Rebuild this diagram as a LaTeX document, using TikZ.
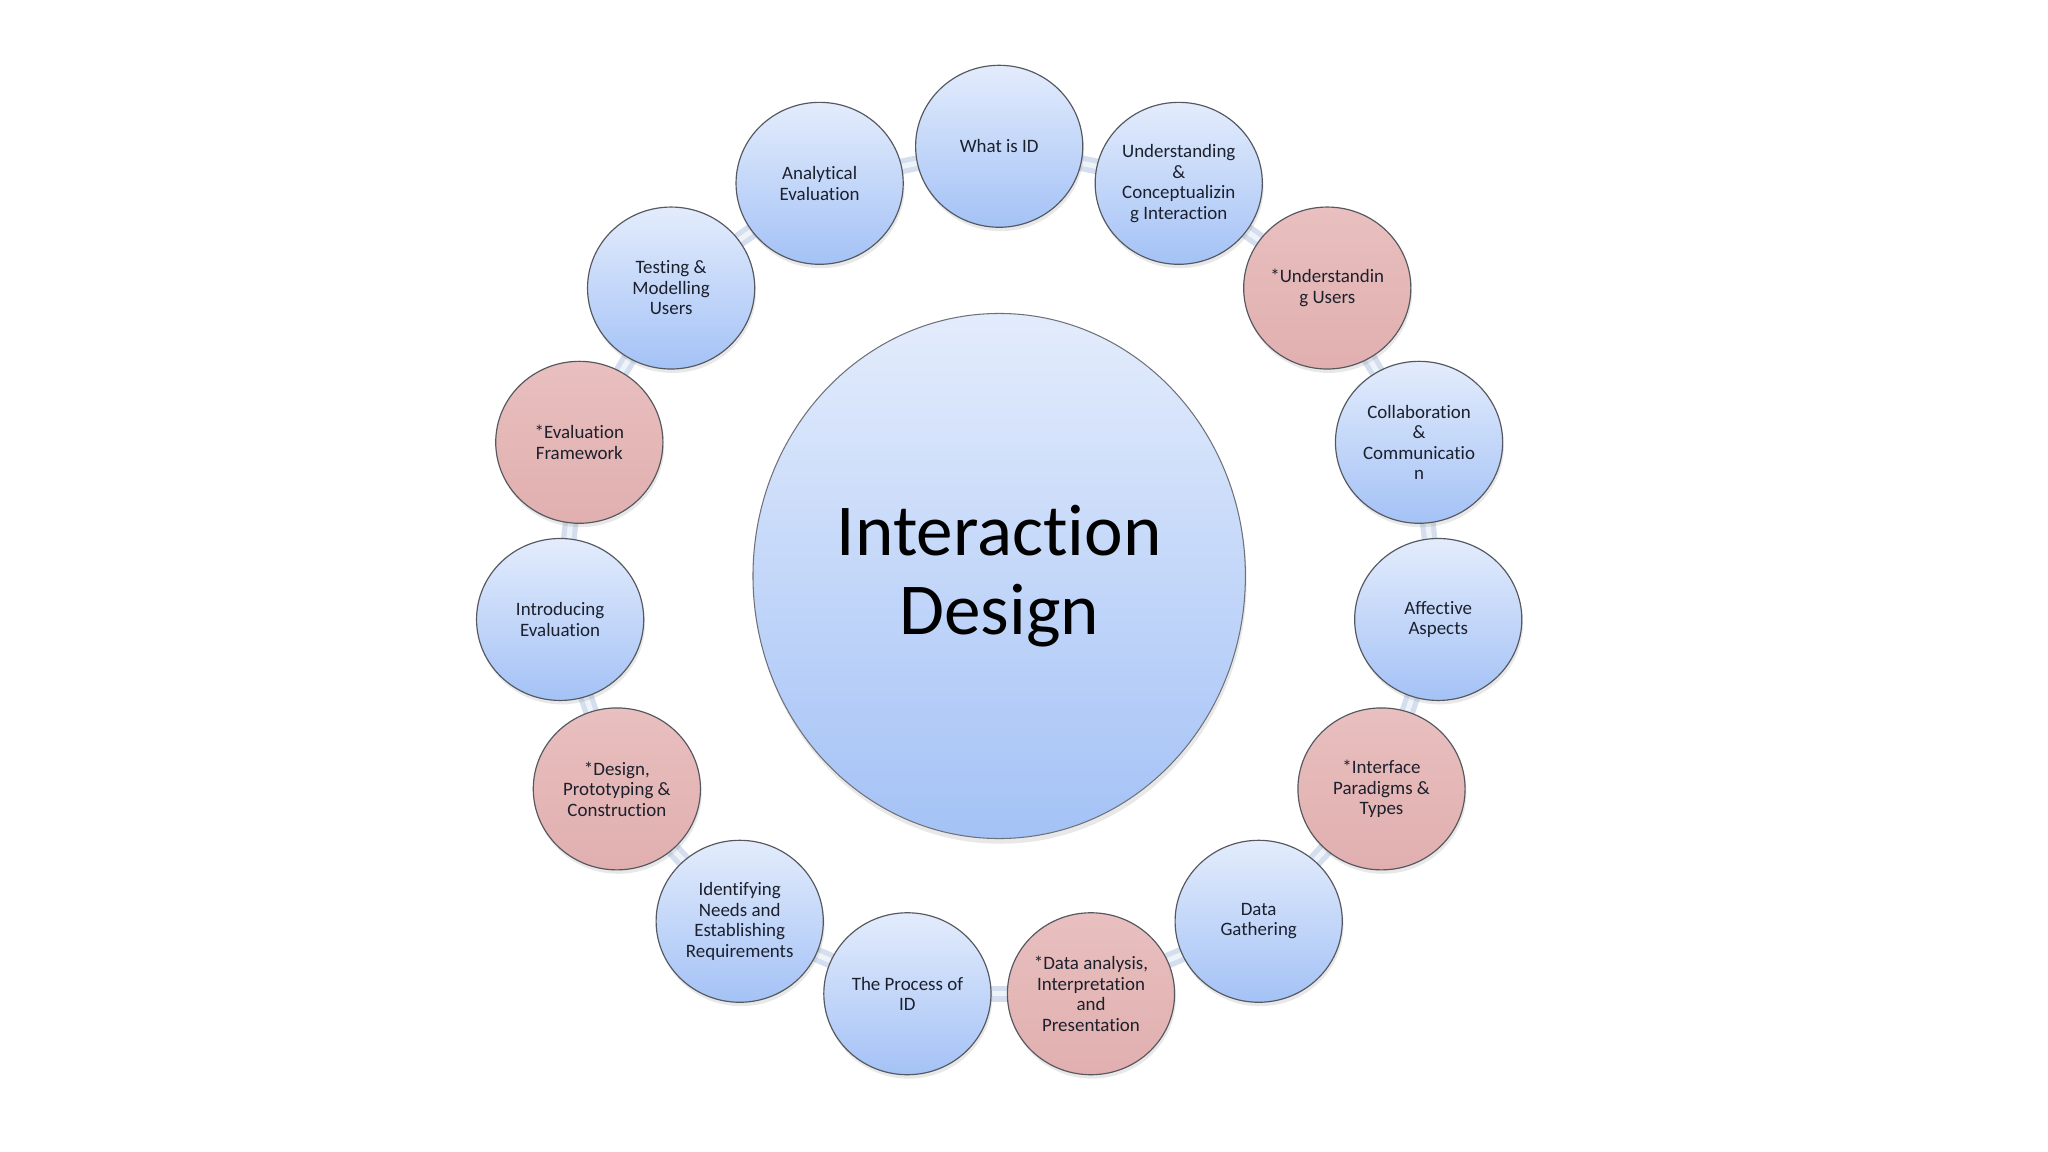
\documentclass[tikz,border=0pt]{standalone}
\usepackage{fontspec}
\setmainfont{Carlito}[Ligatures=NoCommon]
\usetikzlibrary{shapes.geometric,shadows}
\pgfdeclarelayer{bg}
\pgfsetlayers{bg,main}
\definecolor{bluetop}{RGB}{227,236,252}
\definecolor{bluebot}{RGB}{164,194,246}
\definecolor{redtop}{RGB}{233,191,191}
\definecolor{redbot}{RGB}{225,175,175}
\definecolor{edgecol}{RGB}{85,88,95}
\definecolor{bandcol}{RGB}{212,222,238}
\definecolor{bandhi}{RGB}{238,243,250}
\definecolor{txtcol}{RGB}{28,32,45}
\begin{document}
\begin{tikzpicture}[x=1pt,y=-1pt,
  bubble/.style={ellipse, minimum width=128pt, minimum height=124pt, inner sep=0pt,
    draw=edgecol, line width=0.9pt, align=center, text=txtcol,
    font=\fontsize{14.5}{15.7}\selectfont,
    drop shadow={opacity=0.18, shadow xshift=1pt, shadow yshift=-3pt}},
  bluebub/.style={bubble, top color=bluetop, bottom color=bluebot},
  redbub/.style={bubble, top color=redtop, bottom color=redbot},
  band/.style={line width=12pt, draw=bandcol},
  bandin/.style={line width=4pt, draw=bandhi}]
\useasboundingbox (0,0) rectangle (1568,882);

\node[ellipse, minimum width=377pt, minimum height=402pt, inner sep=0pt,
  top color=bluetop, bottom color=bluebot, draw=edgecol!85, line width=0.8pt,
  drop shadow={opacity=0.18, shadow xshift=1pt, shadow yshift=-4pt},
  font=\fontsize{56}{60}\selectfont, align=center, text=black] (core) at (765,441) {Interaction\\Design};

\node[bluebub] (n1) at ({765+338*cos(90)},{440-328*sin(90)}) {What is ID};
\node[bluebub] (n2) at ({765+338*cos(66)},{440-328*sin(66)}) {Understanding\\\&\\Conceptualizin\\g Interaction};
\node[redbub] (n3) at ({765+338*cos(42)},{440-328*sin(42)}) {*Understandin\\g Users};
\node[bluebub] (n4) at ({765+338*cos(18)},{440-328*sin(18)}) {Collaboration\\\&\\Communicatio\\n};
\node[bluebub] (n5) at ({765+338*cos(-6)},{440-328*sin(-6)}) {Affective\\Aspects};
\node[redbub] (n6) at ({765+338*cos(-30)},{440-328*sin(-30)}) {*Interface\\Paradigms \&\\Types};
\node[bluebub] (n7) at ({765+338*cos(-54)},{440-328*sin(-54)}) {Data\\Gathering};
\node[redbub] (n8) at ({765+338*cos(-78)},{440-328*sin(-78)}) {*Data analysis,\\Interpretation\\and\\Presentation};
\node[bluebub] (n9) at ({765+338*cos(-102)},{440-328*sin(-102)}) {The Process of\\ID};
\node[bluebub] (n10) at ({765+338*cos(-126)},{440-328*sin(-126)}) {Identifying\\Needs and\\Establishing\\Requirements};
\node[redbub] (n11) at ({765+338*cos(-150)},{440-328*sin(-150)}) {*Design,\\Prototyping \&\\Construction};
\node[bluebub] (n12) at ({765+338*cos(-174)},{440-328*sin(-174)}) {Introducing\\Evaluation};
\node[redbub] (n13) at ({765+338*cos(162)},{440-328*sin(162)}) {*Evaluation\\Framework};
\node[bluebub] (n14) at ({765+338*cos(138)},{440-328*sin(138)}) {Testing \&\\Modelling\\Users};
\node[bluebub] (n15) at ({765+338*cos(114)},{440-328*sin(114)}) {Analytical\\Evaluation};

\begin{pgfonlayer}{bg}
\fill[white] (0,0) rectangle (1568,882);
\foreach \a/\b in {n1/n2,n2/n3,n3/n4,n4/n5,n5/n6,n6/n7,n7/n8,n8/n9,n9/n10,n10/n11,n11/n12,n12/n13,n13/n14,n14/n15,n15/n1}{
  \draw[band] (\a.center) -- (\b.center);
  \draw[bandin] (\a.center) -- (\b.center);
}
\end{pgfonlayer}
\end{tikzpicture}
\end{document}
